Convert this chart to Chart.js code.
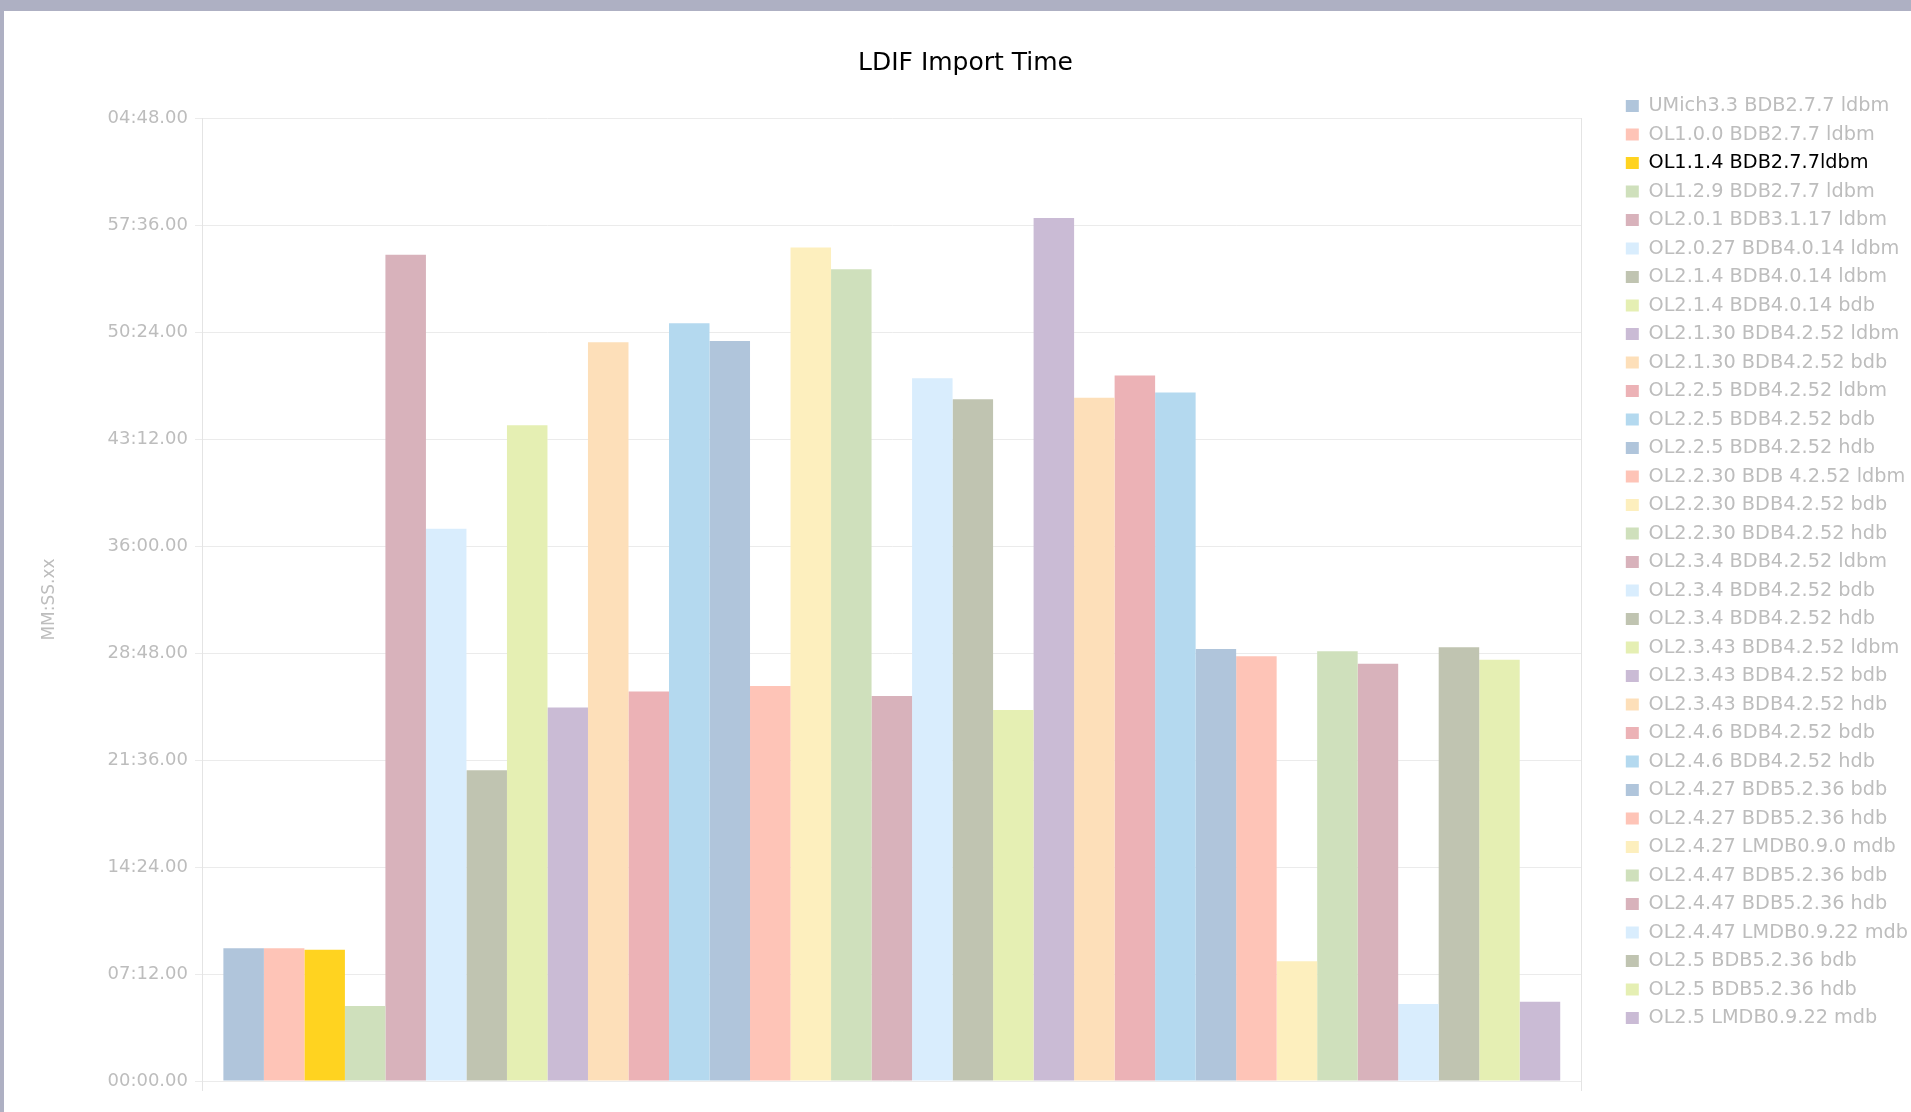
<!DOCTYPE html>
<html>
<head>
<meta charset="utf-8">
<title>LDIF Import Time</title>
<script src="https://cdn.jsdelivr.net/npm/chart.js@4.4.1/dist/chart.umd.min.js"></script>
<style>
  html, body { margin: 0; padding: 0; background: #aeb0c3; overflow: hidden; }
  #frame { position: absolute; left: 4px; top: 11px; width: 1907px; height: 1101px; background: #fff; }
</style>
</head>
<body>
<div id="frame"><canvas id="importChart" width="1907" height="1101"></canvas></div>
<script>
// one (unlabelled) category, one bar per build
const categoryLabels = [''];

const seriesNames = [
  'UMich3.3 BDB2.7.7 ldbm',
  'OL1.0.0 BDB2.7.7 ldbm',
  'OL1.1.4 BDB2.7.7ldbm',
  'OL1.2.9 BDB2.7.7 ldbm',
  'OL2.0.1 BDB3.1.17 ldbm',
  'OL2.0.27 BDB4.0.14 ldbm',
  'OL2.1.4 BDB4.0.14 ldbm',
  'OL2.1.4 BDB4.0.14 bdb',
  'OL2.1.30 BDB4.2.52 ldbm',
  'OL2.1.30 BDB4.2.52 bdb',
  'OL2.2.5 BDB4.2.52 ldbm',
  'OL2.2.5 BDB4.2.52 bdb',
  'OL2.2.5 BDB4.2.52 hdb',
  'OL2.2.30 BDB 4.2.52 ldbm',
  'OL2.2.30 BDB4.2.52 bdb',
  'OL2.2.30 BDB4.2.52 hdb',
  'OL2.3.4 BDB4.2.52 ldbm',
  'OL2.3.4 BDB4.2.52 bdb',
  'OL2.3.4 BDB4.2.52 hdb',
  'OL2.3.43 BDB4.2.52 ldbm',
  'OL2.3.43 BDB4.2.52 bdb',
  'OL2.3.43 BDB4.2.52 hdb',
  'OL2.4.6 BDB4.2.52 bdb',
  'OL2.4.6 BDB4.2.52 hdb',
  'OL2.4.27 BDB5.2.36 bdb',
  'OL2.4.27 BDB5.2.36 hdb',
  'OL2.4.27 LMDB0.9.0 mdb',
  'OL2.4.47 BDB5.2.36 bdb',
  'OL2.4.47 BDB5.2.36 hdb',
  'OL2.4.47 LMDB0.9.22 mdb',
  'OL2.5 BDB5.2.36 bdb',
  'OL2.5 BDB5.2.36 hdb',
  'OL2.5 LMDB0.9.22 mdb'
];

// import time in seconds
const importSeconds = [
  536, 536, 530, 303, 3336, 2230, 1255, 2648, 1508, 2983, 1573,
  3059, 2988, 1595, 3365, 3277, 1554, 2837, 2752, 1498, 3484, 2759,
  2848, 2780, 1744, 1715, 483, 1735, 1685, 311, 1751, 1701, 320
];

const seriesColors = [
  '#b0c5db', '#fec4b7', '#ffd320', '#cfe0bc', '#d8b2bb', '#d9edfd',
  '#c0c4b1', '#e5efb3', '#cabbd5', '#fddfb9', '#ecb2b6', '#b4d9ef',
  '#b0c5db', '#fec4b7', '#fdefbe', '#cfe0bc', '#d8b2bb', '#d9edfd',
  '#c0c4b1', '#e5efb3', '#cabbd5', '#fddfb9', '#ecb2b6', '#b4d9ef',
  '#b0c5db', '#fec4b7', '#fdefbe', '#cfe0bc', '#d8b2bb', '#d9edfd',
  '#c0c4b1', '#e5efb3', '#cabbd5'
];

const highlighted = 'OL1.1.4 BDB2.7.7ldbm';

// y axis: 7:12 steps up to 64:48
const yTickStep = 432;
const yMax = 3888;

const fontFamily = "'DejaVu Sans', sans-serif";
const faint = '#bdbdbd';

function pad2(n) { return (n < 10 ? '0' : '') + n; }
function mmss(value) {
  const s = Math.round(value);
  const mm = Math.floor(s / 60) % 60;
  return pad2(mm) + ':' + pad2(s % 60) + '.00';
}

const datasets = seriesNames.map((name, i) => ({
  label: name,
  data: [importSeconds[i]],
  backgroundColor: seriesColors[i],
  borderWidth: 0
}));

const ctx = document.getElementById('importChart').getContext('2d');
new Chart(ctx, {
  type: 'bar',
  data: { labels: categoryLabels, datasets: datasets },
  options: {
    responsive: false,
    animation: false,
    layout: { padding: { left: 9, right: -7, top: 0, bottom: -1 } },
    datasets: { bar: { categoryPercentage: 0.969, barPercentage: 1 } },
    plugins: {
      title: {
        display: true,
        text: 'LDIF Import Time',
        color: '#000',
        font: { family: fontFamily, size: 25, weight: 'normal' },
        padding: { top: 37, bottom: 40 }
      },
      legend: {
        position: 'right',
        labels: {
          boxWidth: 13,
          boxHeight: 12,
          padding: 9.2,
          color: faint,
          font: { family: fontFamily, size: 19.3 },
          generateLabels: function(chart) {
            const items = Chart.defaults.plugins.legend.labels.generateLabels(chart);
            items.forEach(it => { if (it.text === highlighted) it.fontColor = '#000'; });
            return items;
          }
        }
      },
      tooltip: { enabled: false }
    },
    scales: {
      x: {
        grid: { display: true, drawOnChartArea: false, tickLength: 10, color: '#e4e4e4' },
        border: { display: false },
        ticks: { display: false },
        afterFit: function(scale) { scale.height = 32; }
      },
      y: {
        min: 0,
        max: yMax,
        ticks: {
          stepSize: yTickStep,
          color: faint,
          padding: 7,
          font: { family: fontFamily, size: 18 },
          callback: function(value) { return mmss(value); }
        },
        grid: { color: '#ebebeb', tickLength: 7 },
        border: { color: '#e4e4e4' },
        title: {
          display: true,
          text: 'MM:SS.xx',
          color: faint,
          font: { family: fontFamily, size: 17 },
          padding: { top: 26, bottom: 0 }
        },
        afterFit: function(scale) { scale.width = 189; }
      },
      yr: {
        position: 'right',
        grid: { drawOnChartArea: false, drawTicks: false },
        ticks: { display: false },
        border: { color: '#e4e4e4' },
        afterFit: function(scale) { scale.width = 35; }
      }
    }
  }
});
</script>
</body>
</html>
